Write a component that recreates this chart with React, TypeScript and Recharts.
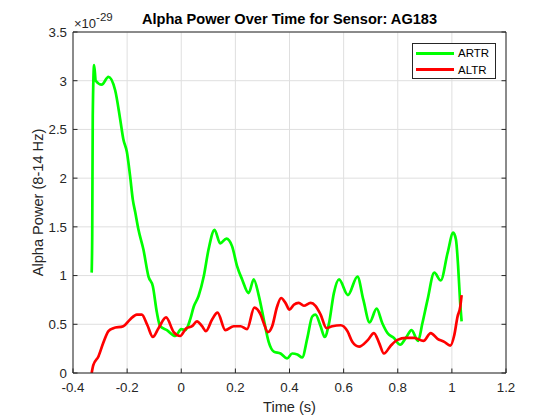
import { CartesianGrid, Legend, Line, LineChart, XAxis, YAxis } from "recharts";

// ─── Data (power in units of 1e-29) ───────────────────────────────────────────

const seriesNames = ["ARTR", "ALTR"];

const artrTime = [
  -0.331, -0.329, -0.327, -0.322, -0.316, -0.294, -0.269, -0.244, -0.226, -0.214,
  -0.201, -0.189, -0.179, -0.17, -0.158, -0.14, -0.121, -0.105, -0.09, -0.078,
  -0.053, -0.022, 0, 0.015, 0.033, 0.046, 0.064, 0.083, 0.101, 0.123, 0.144, 0.167,
  0.188, 0.206, 0.225, 0.249, 0.268, 0.286, 0.305, 0.323, 0.342, 0.367, 0.391, 0.41,
  0.429, 0.447, 0.466, 0.484, 0.496, 0.515, 0.53, 0.546, 0.564, 0.583, 0.616, 0.651,
  0.673, 0.696, 0.722, 0.743, 0.762, 0.786, 0.809, 0.83, 0.851, 0.875, 0.891, 0.91,
  0.935, 0.959, 0.984, 1.005, 1.015, 1.023, 1.03, 1.036,
];
const artrPower = [
  1.03, 1.4, 2.64, 3.16, 3.0, 2.96, 3.04, 2.9, 2.61, 2.4,
  2.27, 2.02, 1.78, 1.65, 1.47, 1.27, 0.99, 0.89, 0.62, 0.48,
  0.44, 0.38, 0.45, 0.44, 0.55, 0.68, 0.79, 0.99, 1.27, 1.47, 1.33, 1.38,
  1.3, 1.1, 0.96, 0.82, 0.96, 0.8, 0.55, 0.32, 0.22, 0.2, 0.15, 0.2,
  0.19, 0.16, 0.36, 0.58, 0.6, 0.48, 0.37, 0.51, 0.82, 0.96, 0.8, 0.99,
  0.75, 0.52, 0.66, 0.51, 0.41, 0.36, 0.29, 0.36, 0.44, 0.33, 0.51, 0.75,
  1.03, 0.95, 1.23, 1.44, 1.37, 1.1, 0.75, 0.53,
];

const altrTime = [
  -0.331, -0.325, -0.306, -0.288, -0.269, -0.251, -0.214, -0.189, -0.164, -0.146,
  -0.125, -0.105, -0.084, -0.056, -0.028, -0.004, 0.019, 0.04, 0.058, 0.077, 0.091,
  0.114, 0.134, 0.163, 0.194, 0.219, 0.243, 0.27, 0.293, 0.305, 0.32, 0.336, 0.354,
  0.369, 0.385, 0.4, 0.416, 0.434, 0.453, 0.478, 0.496, 0.515, 0.537, 0.558, 0.589,
  0.614, 0.632, 0.657, 0.69, 0.712, 0.731, 0.749, 0.774, 0.799, 0.83, 0.86, 0.895,
  0.922, 0.947, 0.972, 0.994, 1.009, 1.021, 1.031, 1.036,
];
const altrPower = [
  0.0, 0.08, 0.17, 0.31, 0.43, 0.46, 0.48, 0.55, 0.6, 0.6,
  0.49, 0.37, 0.46, 0.57, 0.42, 0.38, 0.46, 0.48, 0.53, 0.48, 0.43,
  0.55, 0.62, 0.44, 0.48, 0.48, 0.45, 0.67, 0.6, 0.51, 0.42, 0.48, 0.68,
  0.77, 0.72, 0.65, 0.7, 0.72, 0.69, 0.72, 0.69, 0.6, 0.46, 0.48, 0.49,
  0.43, 0.32, 0.27, 0.34, 0.41, 0.31, 0.2, 0.28, 0.34, 0.36, 0.36, 0.33,
  0.41, 0.35, 0.32, 0.28, 0.39, 0.58, 0.68, 0.8,
];

const xTicks = [-0.4, -0.2, 0, 0.2, 0.4, 0.6, 0.8, 1, 1.2];
const yTicks = [0, 0.5, 1, 1.5, 2, 2.5, 3, 3.5];

const artrData = artrTime.map((t, i) => ({ time: t, power: artrPower[i] }));
const altrData = altrTime.map((t, i) => ({ time: t, power: altrPower[i] }));

// ─── Styling ──────────────────────────────────────────────────────────────────

const AXIS = "#262626";
const GRID = "#dfdfdf";
const TICK_LEN = 4.5;
const FONT = '"Liberation Sans", Arial, Helvetica, sans-serif';

function BottomTick({ x, y, payload }: any) {
  return (
    <g>
      <line x1={x} x2={x} y1={y} y2={y - TICK_LEN} stroke={AXIS} />
      <text x={x} y={y + 19} textAnchor="middle" fill={AXIS} fontSize={13.3}>
        {String(payload.value)}
      </text>
    </g>
  );
}

function LeftTick({ x, y, payload }: any) {
  return (
    <g>
      <line x1={x} x2={x + TICK_LEN} y1={y} y2={y} stroke={AXIS} />
      <text x={x - 6} y={y + 4.8} textAnchor="end" fill={AXIS} fontSize={13.3}>
        {String(payload.value)}
      </text>
    </g>
  );
}

function TopTick({ x, y }: any) {
  return <line x1={x} x2={x} y1={y} y2={y + TICK_LEN} stroke={AXIS} />;
}

function RightTick({ x, y }: any) {
  return <line x1={x} x2={x - TICK_LEN} y1={y} y2={y} stroke={AXIS} />;
}

function TitleLabel({ viewBox }: any) {
  const { x, y, width, height } = viewBox;
  const top = y + height;
  return (
    <g>
      <text x={x + width / 2} y={top - 8} textAnchor="middle" fontWeight="bold" fontSize={14.6} fill="#000">
        Alpha Power Over Time for Sensor: AG183
      </text>
      <text x={x + 1} y={top - 4} fill={AXIS} fontSize={13}>
        ×10
        <tspan dy={-7.5} fontSize={11.5}>
          -29
        </tspan>
      </text>
    </g>
  );
}

function XLabel({ viewBox }: any) {
  const { x, y, width } = viewBox;
  return (
    <text x={x + width / 2} y={y + 39} textAnchor="middle" fill={AXIS} fontSize={14.6}>
      Time (s)
    </text>
  );
}

function YLabel({ viewBox }: any) {
  const { x, y, width, height } = viewBox;
  const cx = x + width - 30.5;
  const cy = y + height / 2;
  return (
    <text x={cx} y={cy} textAnchor="middle" fill={AXIS} fontSize={14.6} transform={`rotate(-90, ${cx}, ${cy})`}>
      Alpha Power (8-14 Hz)
    </text>
  );
}

function LegendBox({ payload }: any) {
  const items = [...(payload ?? [])].sort(
    (a: any, b: any) => seriesNames.indexOf(a.value) - seriesNames.indexOf(b.value),
  );
  return (
    <div
      style={{
        border: `1px solid ${AXIS}`,
        background: "#fff",
        padding: "1px 3px",
        width: 84,
        height: 36,
        boxSizing: "border-box",
        fontFamily: FONT,
      }}
    >
      {items.map((entry: any) => (
        <div key={entry.value} style={{ display: "flex", alignItems: "center", height: 16.6 }}>
          <span style={{ display: "inline-block", width: 38, height: 3, background: entry.color, marginRight: 4 }} />
          <span style={{ fontSize: 11.5, color: "#000", lineHeight: "14px" }}>{entry.value}</span>
        </div>
      ))}
    </div>
  );
}

export default function App() {
  return (
    <div style={{ position: "absolute", left: 0, top: 0, width: 560, height: 420, background: "#fff", fontFamily: FONT }}>
      <LineChart width={560} height={420} margin={{ top: 31, right: 53, left: 13, bottom: 0 }}>
        <CartesianGrid stroke={GRID} />
        <XAxis
          dataKey="time"
          type="number"
          domain={[-0.4, 1.2]}
          ticks={xTicks}
          allowDataOverflow
          height={47}
          tickSize={0}
          tickMargin={0}
          axisLine={{ stroke: AXIS }}
          tick={(p: any) => <BottomTick {...p} />}
          label={(p: any) => <XLabel {...p} />}
        />
        <XAxis
          xAxisId="top"
          orientation="top"
          type="number"
          domain={[-0.4, 1.2]}
          ticks={xTicks}
          allowDataOverflow
          height={1}
          tickSize={0}
          tickMargin={0}
          axisLine={{ stroke: AXIS }}
          tick={(p: any) => <TopTick {...p} />}
          label={(p: any) => <TitleLabel {...p} />}
        />
        <YAxis
          type="number"
          domain={[0, 3.5]}
          ticks={yTicks}
          allowDataOverflow
          width={60}
          tickSize={0}
          tickMargin={0}
          axisLine={{ stroke: AXIS }}
          tick={(p: any) => <LeftTick {...p} />}
          label={(p: any) => <YLabel {...p} />}
        />
        <YAxis
          yAxisId="right"
          orientation="right"
          type="number"
          domain={[0, 3.5]}
          ticks={yTicks}
          allowDataOverflow
          width={1}
          tickSize={0}
          tickMargin={0}
          axisLine={{ stroke: AXIS }}
          tick={(p: any) => <RightTick {...p} />}
        />
        <Legend
          layout="vertical"
          align="center"
          verticalAlign="middle"
          content={(p: any) => <LegendBox {...p} />}
          wrapperStyle={{ left: 412, top: 43, width: 84, height: 36 }}
        />
        <Line
          data={artrData}
          dataKey="power"
          name="ARTR"
          type="monotone"
          stroke="#00ff00"
          strokeWidth={2.7}
          dot={false}
          activeDot={false}
          isAnimationActive={false}
        />
        <Line
          data={altrData}
          dataKey="power"
          name="ALTR"
          type="monotone"
          stroke="#ff0000"
          strokeWidth={2.7}
          dot={false}
          activeDot={false}
          isAnimationActive={false}
        />
      </LineChart>
    </div>
  );
}
